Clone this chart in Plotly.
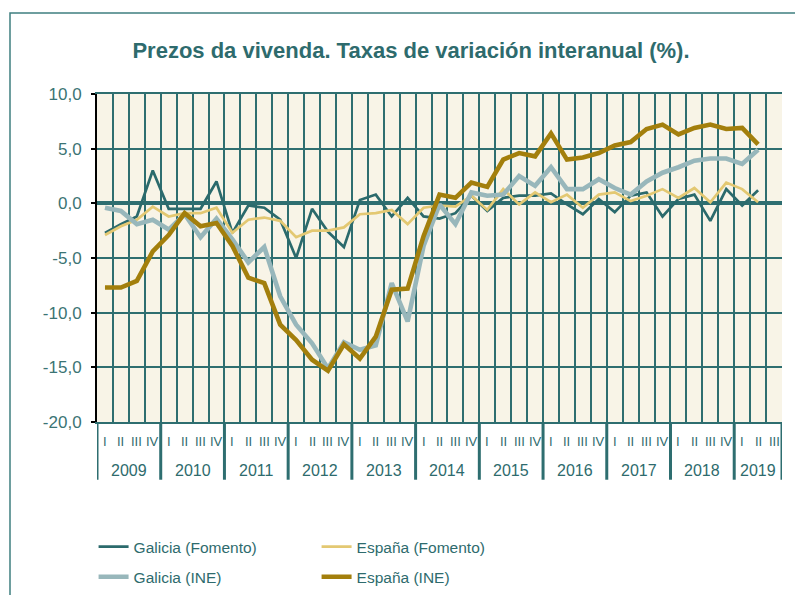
import plotly.graph_objects as go

# ---------------- data ----------------
years = ["2009", "2010", "2011", "2012", "2013", "2014", "2015", "2016", "2017", "2018", "2019"]
quarters_in_year = [4, 4, 4, 4, 4, 4, 4, 4, 4, 4, 3]
quarter_names = ["I", "II", "III", "IV"]

galicia_fomento = [-2.7, -1.9, -1.2, 3.0, -0.5, -0.5, -0.5, 2.0, -2.7, -0.2,
                   -0.4, -1.5, -5.0, -0.5, -2.6, -4.0, 0.3, 0.8, -1.2, 0.5,
                   -1.2, -1.4, -0.9, 0.7, -0.7, 0.5, 0.7, 0.7, 0.9, -0.1,
                   -1.0, 0.4, -0.8, 0.7, 1.0, -1.2, 0.4, 0.8, -1.6, 1.3,
                   -0.2, 1.2]
espana_fomento = [-2.9, -2.1, -1.5, -0.3, -1.2, -0.9, -0.9, -0.4, -2.7, -1.5,
                  -1.3, -1.6, -3.1, -2.5, -2.5, -2.2, -1.0, -0.9, -0.6, -1.9,
                  -0.4, -0.2, -0.3, 0.7, -0.6, 1.3, -0.1, 1.0, 0.1, 0.8,
                  -0.4, 0.8, 1.0, 0.2, 0.7, 1.3, 0.5, 1.4, 0.1, 1.9,
                  1.3, 0.1]
galicia_ine = [-0.4, -0.7, -1.9, -1.5, -2.4, -1.0, -3.1, -1.4, -3.3, -5.4,
               -4.0, -8.5, -11.1, -12.8, -15.1, -12.7, -13.4, -13.0, -7.3, -10.8,
               -3.9, -0.1, -1.9, 1.0, 0.7, 0.8, 2.5, 1.6, 3.3, 1.3,
               1.3, 2.2, 1.4, 0.8, 2.0, 2.8, 3.3, 3.9, 4.1, 4.1,
               3.6, 4.9]
espana_ine = [-7.7, -7.7, -7.1, -4.4, -2.9, -0.9, -2.1, -1.8, -3.9, -6.8,
              -7.3, -11.1, -12.5, -14.3, -15.3, -12.9, -14.2, -12.2, -7.9, -7.8,
              -3.0, 0.8, 0.5, 1.9, 1.5, 4.0, 4.6, 4.3, 6.4, 4.0,
              4.2, 4.6, 5.3, 5.6, 6.8, 7.2, 6.3, 6.9, 7.2, 6.8,
              6.9, 5.4]

y_tick_values = [-20, -15, -10, -5, 0, 5, 10]
y_tick_labels = ["-20,0", "-15,0", "-10,0", "-5,0", "0,0", "5,0", "10,0"]

series_names = ["Galicia (Fomento)", "España (Fomento)", "Galicia (INE)", "España (INE)"]
series_values = [galicia_fomento, espana_fomento, galicia_ine, espana_ine]

# ---------------- styles ----------------
series_colors = ["#2B6A6C", "#E3C872", "#98B7BB", "#A37F0C"]
series_widths = [2.7, 2.7, 4.6, 4.6]
series_legends = ["legend", "legend2", "legend", "legend2"]
TEAL = "#2E6E70"
TEXT = "#2E6B6D"
FONT = "Liberation Sans, Arial"

# categories (year, quarter)
categories = []
for yr, n in zip(years, quarters_in_year):
    for q in quarter_names[:n]:
        categories.append((yr, q))
n_cat = len(categories)

fig = go.Figure()
for k, (name, vals, col, w, lg) in enumerate(zip(series_names, series_values, series_colors,
                                                 series_widths, series_legends)):
    fig.add_trace(go.Scatter(
        x=list(range(len(vals))), y=vals, name=name, mode="lines",
        line=dict(color=col, width=w), legend=lg, legendgroup=f"g{k}",
    ))

boundaries = [i - 0.5 for i in range(n_cat + 1)]

fig.update_xaxes(
    range=[-0.5, n_cat - 0.5], tickmode="array", tickvals=boundaries,
    showticklabels=False, showgrid=True, gridcolor=TEAL, gridwidth=2,
    zeroline=False, showline=True, linecolor=TEAL, linewidth=2, mirror=True,
    ticks="",
)
fig.update_yaxes(
    range=[-20, 10], tickmode="array", tickvals=y_tick_values, ticktext=y_tick_labels,
    showgrid=True, gridcolor=TEAL, gridwidth=2,
    zeroline=True, zerolinecolor=TEAL, zerolinewidth=4,
    showline=True, linecolor="black", linewidth=2,
    ticks="outside", ticklen=4, tickcolor="black", tickwidth=2,
    tickfont=dict(family=FONT, size=17, color="#3B7474"),
    ticklabelstandoff=6,
)

annotations = []
shapes = []
# quarter labels
for i, (yr, q) in enumerate(categories):
    annotations.append(dict(
        x=i, y=0, xref="x", yref="paper", text=q, showarrow=False,
        yanchor="middle", yshift=-19,
        font=dict(family=FONT, size=13, color=TEXT),
    ))
# year labels and dividers
start = 0
for yr, n in zip(years, quarters_in_year):
    center = start + (n - 1) / 2
    annotations.append(dict(
        x=center, y=0, xref="x", yref="paper", text=yr, showarrow=False,
        yanchor="middle", yshift=-48,
        font=dict(family=FONT, size=16, color=TEXT),
    ))
    shapes.append(dict(type="line", xref="x", yref="paper",
                       x0=start - 0.5, x1=start - 0.5, y0=0, y1=-0.176,
                       line=dict(color=TEAL, width=3)))
    start += n
shapes.append(dict(type="line", xref="x", yref="paper",
                   x0=start - 0.5, x1=start - 0.5, y0=0, y1=-0.176,
                   line=dict(color=TEAL, width=3)))
# outer border
shapes.append(dict(type="rect", xref="paper", yref="paper",
                   x0=(10 - 97) / 685, x1=1.2, y0=-0.8, y1=1 + (94 - 13) / 328,
                   line=dict(color="#3F7F80", width=1.5), layer="below"))

legend_common = dict(orientation="v", xanchor="left", yanchor="top",
                     yref="container", y=1 - 530 / 595,
                     tracegroupgap=7,
                     font=dict(family=FONT, size=15.5, color=TEXT),
                     bgcolor="rgba(0,0,0,0)", traceorder="grouped")

fig.update_layout(
    width=795, height=595, autosize=False,
    margin=dict(l=97, r=13, t=94, b=173, autoexpand=False),
    paper_bgcolor="white", plot_bgcolor="#F8F4E7",
    title=dict(text="<b>Prezos da vivenda. Taxas de variación interanual (%).</b>",
               x=411 / 795, xref="container", xanchor="center",
               y=1 - 50 / 595, yref="container", yanchor="middle",
               font=dict(family=FONT, size=22, color=TEXT)),
    showlegend=True,
    legend=dict(x=-0.005, **legend_common),
    legend2=dict(x=-0.005 + 223 / 685, **legend_common),
    annotations=annotations, shapes=shapes,
)

fig.write_html("out.html")
